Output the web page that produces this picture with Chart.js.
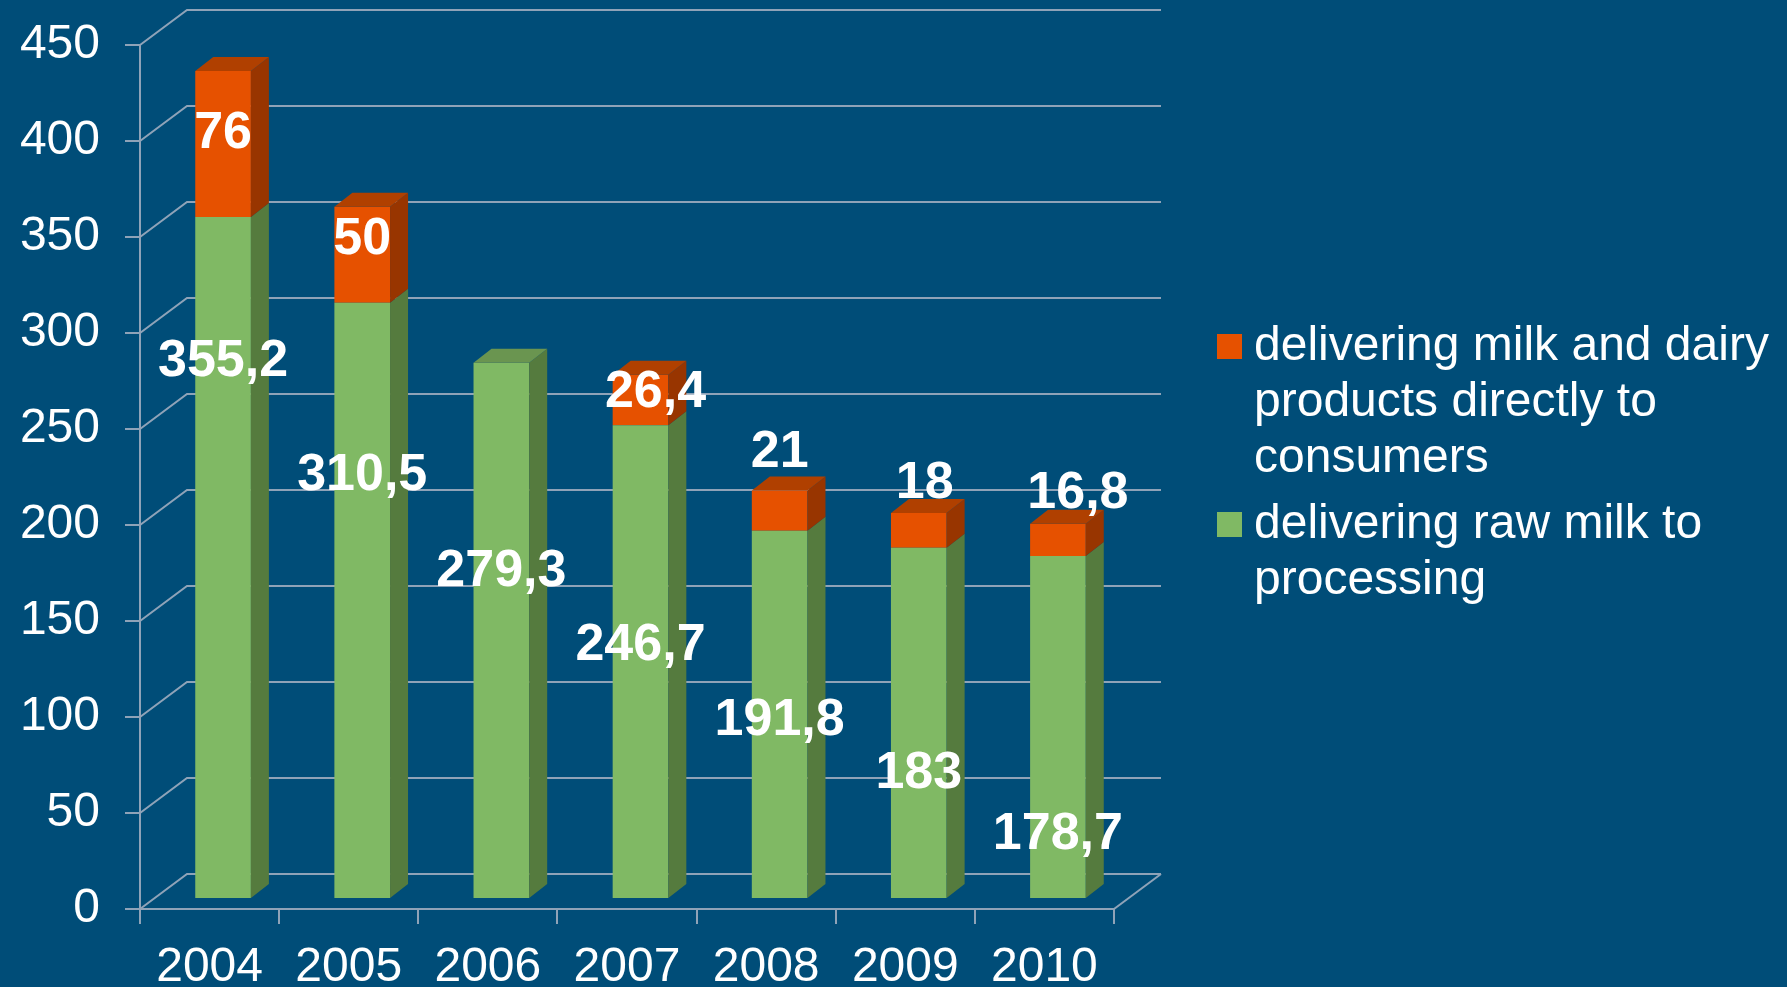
<!DOCTYPE html>
<html>
<head>
<meta charset="utf-8">
<script src="https://cdn.jsdelivr.net/npm/chart.js@4/dist/chart.umd.min.js"></script>
<style>
  html, body { margin: 0; padding: 0; background: #004d78; }
  #wrap { width: 1787px; height: 987px; }
</style>
</head>
<body>
<div id="wrap"><canvas id="chart" width="1787" height="987"></canvas></div>
<script>
const years = ["2004", "2005", "2006", "2007", "2008", "2009", "2010"];
const rawMilk = [355.2, 310.5, 279.3, 246.7, 191.8, 183, 178.7];
const directSales = [76, 50, null, 26.4, 21, 18, 16.8];
const seriesNames = [
  "delivering milk and dairy products directly to consumers",
  "delivering raw milk to processing"
];
const yTicks = [0, 50, 100, 150, 200, 250, 300, 350, 400, 450];

// where the value labels sit (axis units) - they were placed by hand in the original
const rawLabelAt = [287, 228, 177.6, 139, 100, 72.4, 41];
const directLabelAt = [405.7, 350.5, null, 270.8, 239.6, 223.4, 218.2];
const directLabelShift = [0, 0, 0, 15, 0, 6, 20];

const bg = "#004d78";
const gridColor = "#8fa3b8";
const wall = { x: 47, y: -35 };   // depth of the back wall
const barPlane = { x: 13.5, y: -10 }; // where the bars stand
const barDepth = { x: 18, y: -14 };

const colors = {
  raw: { front: "#80b964", side: "#557b3e", top: "#6a9550" },
  direct: { front: "#e65100", side: "#983500", top: "#b04000" }
};

const fmt = v => String(v).replace(".", ",");
const font = "'Liberation Sans', Arial, sans-serif";

const box3d = {
  id: "box3d",
  beforeDraw(chart) {
    const ctx = chart.ctx;
    ctx.save();
    ctx.fillStyle = bg;
    ctx.fillRect(0, 0, chart.width, chart.height);
    ctx.restore();
  },
  beforeDatasetsDraw(chart) {
    const ctx = chart.ctx;
    const x = chart.scales.x, y = chart.scales.y;
    ctx.save();
    ctx.strokeStyle = gridColor;
    ctx.lineWidth = 2;
    yTicks.forEach(v => {
      const py = y.getPixelForValue(v);
      ctx.beginPath();
      ctx.moveTo(x.left, py);
      ctx.lineTo(x.left + wall.x, py + wall.y);
      ctx.lineTo(x.right + wall.x, py + wall.y);
      ctx.stroke();
    });
    const p0 = y.getPixelForValue(0);
    ctx.beginPath();
    ctx.moveTo(x.right, p0);
    ctx.lineTo(x.right + wall.x, p0 + wall.y);
    ctx.stroke();
    ctx.restore();

    ctx.save();
    ctx.translate(barPlane.x, barPlane.y);
  },
  afterDatasetsDraw(chart) {
    const ctx = chart.ctx;
    const metas = chart.getSortedVisibleDatasetMetas();
    const n = years.length;
    for (let i = 0; i < n; i++) {
      let topMost = null;
      metas.forEach(meta => {
        const ds = chart.data.datasets[meta.index];
        if (ds.data[i] == null) return;
        const c = colors[ds.key];
        const b = meta.data[i].getProps(["x", "y", "base", "width"], true);
        const xr = b.x + b.width / 2;
        ctx.fillStyle = c.side;
        ctx.beginPath();
        ctx.moveTo(xr, b.y);
        ctx.lineTo(xr + barDepth.x, b.y + barDepth.y);
        ctx.lineTo(xr + barDepth.x, b.base + barDepth.y);
        ctx.lineTo(xr, b.base);
        ctx.closePath();
        ctx.fill();
        if (!topMost || b.y < topMost.b.y) topMost = { b, c };
      });
      if (topMost) {
        const { b, c } = topMost;
        const xl = b.x - b.width / 2, xr = b.x + b.width / 2;
        ctx.fillStyle = c.top;
        ctx.beginPath();
        ctx.moveTo(xl, b.y);
        ctx.lineTo(xl + barDepth.x, b.y + barDepth.y);
        ctx.lineTo(xr + barDepth.x, b.y + barDepth.y);
        ctx.lineTo(xr, b.y);
        ctx.closePath();
        ctx.fill();
      }
    }
    ctx.restore();
  },
  afterDraw(chart) {
    const ctx = chart.ctx;
    const x = chart.scales.x, y = chart.scales.y;
    ctx.save();
    ctx.fillStyle = "#ffffff";
    ctx.textAlign = "center";
    ctx.textBaseline = "middle";
    ctx.font = "bold 52px " + font;
    const nudge = 4; // 'middle' sits a little above the digit centre
    rawMilk.forEach((v, i) => {
      ctx.fillText(fmt(v), x.getPixelForValue(i) + barPlane.x,
        y.getPixelForValue(rawLabelAt[i]) + nudge);
    });
    directSales.forEach((v, i) => {
      if (v == null) return;
      ctx.fillText(fmt(v), x.getPixelForValue(i) + barPlane.x + directLabelShift[i],
        y.getPixelForValue(directLabelAt[i]) + nudge);
    });

    // legend
    ctx.textAlign = "left";
    ctx.font = "48px " + font;
    const lx = 1217, tx = 1254, maxW = 530, lineH = 56, gap = 10;
    let ly = 347;
    [chart.data.datasets[1], chart.data.datasets[0]].forEach(ds => {
      const words = ds.label.split(" ");
      const lines = [];
      let cur = "";
      words.forEach(w => {
        const t = cur ? cur + " " + w : w;
        if (ctx.measureText(t).width > maxW && cur) { lines.push(cur); cur = w; }
        else cur = t;
      });
      lines.push(cur);
      ctx.fillStyle = ds.backgroundColor;
      ctx.fillRect(lx, ly - 13, 25, 25);
      ctx.fillStyle = "#ffffff";
      lines.forEach((l, k) => ctx.fillText(l, tx, ly + k * lineH));
      ly += lines.length * lineH + gap;
    });
    ctx.restore();
  }
};

new Chart(document.getElementById("chart"), {
  type: "bar",
  data: {
    labels: years,
    datasets: [
      { key: "raw", label: seriesNames[1], data: rawMilk, backgroundColor: colors.raw.front,
        barPercentage: 1, categoryPercentage: 0.4, clip: false },
      { key: "direct", label: seriesNames[0], data: directSales, backgroundColor: colors.direct.front,
        barPercentage: 1, categoryPercentage: 0.4, clip: false }
    ]
  },
  options: {
    responsive: false,
    animation: false,
    events: [],
    layout: { padding: { top: 45, right: 673, left: 0, bottom: 0 } },
    plugins: { legend: { display: false }, tooltip: { enabled: false } },
    scales: {
      x: {
        stacked: true,
        afterFit: s => { s.height = 78; },
        grid: { display: true, drawOnChartArea: false, drawTicks: true, tickLength: 15,
          color: gridColor, lineWidth: 2, offset: true },
        border: { display: true, color: gridColor, width: 2 },
        ticks: { color: "#ffffff", font: { family: font, size: 48 }, padding: 15, maxRotation: 0 }
      },
      y: {
        stacked: true,
        min: 0,
        max: 450,
        afterFit: s => { s.width = 140; s.paddingTop = 0; s.paddingBottom = 0; },
        afterBuildTicks: s => { s.ticks = yTicks.map(v => ({ value: v })); },
        grid: { display: true, drawOnChartArea: false, drawTicks: true, tickLength: 15,
          color: gridColor, lineWidth: 2 },
        border: { display: true, color: gridColor, width: 2 },
        ticks: { color: "#ffffff", font: { family: font, size: 48 }, padding: 25 }
      }
    }
  },
  plugins: [box3d]
});
</script>
</body>
</html>
